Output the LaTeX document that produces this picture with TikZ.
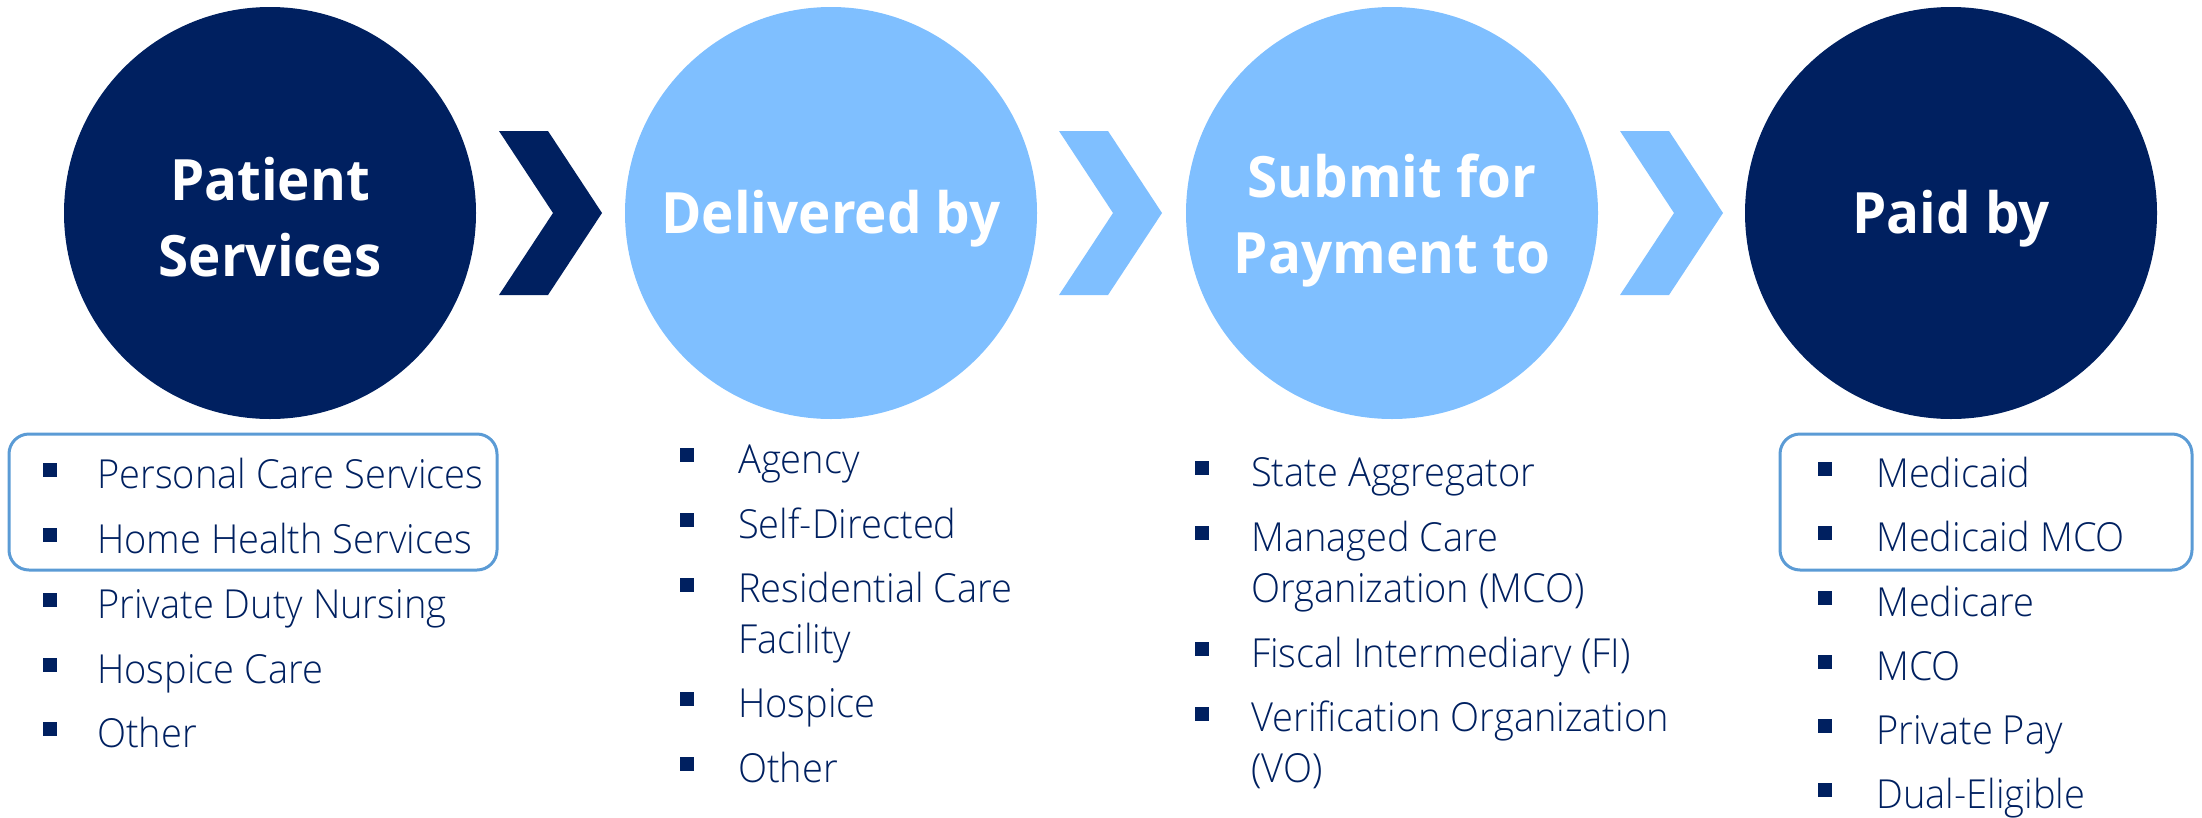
\documentclass[tikz,border=0pt]{standalone}
\usepackage{fontspec}
\setmainfont{Open Sans}
\newfontfamily\itemfont[FakeStretch=0.95]{Open Sans Light}
\newfontfamily\titlefont[FakeStretch=0.96]{Open Sans}
\usetikzlibrary{positioning}
\definecolor{navy}{RGB}{0,32,96}
\definecolor{skyblue}{RGB}{127,191,255}
\definecolor{framecol}{RGB}{91,155,213}

\begin{document}
\begin{tikzpicture}[
            x=1pt, y=-1pt,
            stepcircle/.style={circle, minimum size=412pt, inner sep=0pt},
            steptitle/.style={inner sep=0pt, text=white, align=center,
                font=\titlefont\bfseries\fontsize{57}{76}\selectfont},
            item/.style={anchor=base west, inner sep=0pt, text=navy, align=left,
                font=\itemfont\fontsize{40}{51}\selectfont},
            bullet/.style={rectangle, fill=navy, minimum size=14pt, inner sep=0pt},
            groupbox/.style={draw=framecol, line width=3pt, rounded corners=20pt}
        ]
            \useasboundingbox (0,0) rectangle (2202,817);

            % the four steps
            \node[stepcircle, fill=navy] (patient) at (270,213) {};
            \node[stepcircle, fill=skyblue] (delivered) at (831,213) {};
            \node[stepcircle, fill=skyblue] (submit) at (1392,213) {};
            \node[stepcircle, fill=navy] (paid) at (1951,213) {};
            \node[steptitle] (patienttxt) at ([yshift=-4pt]patient.center) {Patient\\Services};
            \node[steptitle] (deliveredtxt) at ([yshift=-6pt]delivered.center) {Delivered by};
            \node[steptitle] (submittxt) at ([yshift=-8pt]submit.center) {Submit for\\Payment to};
            \node[steptitle] (paidtxt) at ([yshift=-6pt]paid.center) {Paid by};

            % chevrons between the steps
            \foreach \x/\c in {499/navy, 1059/skyblue, 1620/skyblue} {
                \fill[\c] (\x,131) -- ++(49,0) -- ++(54,82) -- ++(-54,82)
                    -- ++(-49,0) -- ++(54,-82) -- cycle;
            }

            % highlight boxes
            \draw[groupbox] (9,434) rectangle (497,570);
            \draw[groupbox] (1780,434) rectangle (2192,570);

            % lists (y = baseline of the last line)
            \foreach \yy/\txt [count=\i] in {488/Personal Care Services, 553/Home Health Services,
                    618/Private Duty Nursing, 683/Hospice Care, 747/Other} {
                \node[bullet] (servb\i) at (50, \yy-18) {};
                \node[item] (serv\i) at (97, \yy) {\txt};
            }
            \foreach \yy/\yb/\txt [count=\i] in {473/473/Agency, 538/538/Self-Directed,
                    653/603/{Residential Care\\Facility}, 717/717/Hospice, 782/782/Other} {
                \node[bullet] (delb\i) at (687, \yb-18) {};
                \node[item] (del\i) at (738, \yy) {\txt};
            }
            \foreach \yy/\yb/\txt [count=\i] in {486/486/State Aggregator,
                    602/551/{Managed Care\\Organization (MCO)},
                    667/667/Fiscal Intermediary (FI), 782/732/{Verification Organization\\(VO)}} {
                \node[bullet] (subb\i) at (1202, \yb-18) {};
                \node[item] (sub\i) at (1251, \yy) {\txt};
            }
            \foreach \yy/\txt [count=\i] in {487/Medicaid, 551/Medicaid MCO, 616/Medicare,
                    680/MCO, 744/Private Pay, 808/Dual-Eligible} {
                \node[bullet] (payb\i) at (1825, \yy-18) {};
                \node[item] (pay\i) at (1876, \yy) {\txt};
            }
        \end{tikzpicture}
\end{document}
